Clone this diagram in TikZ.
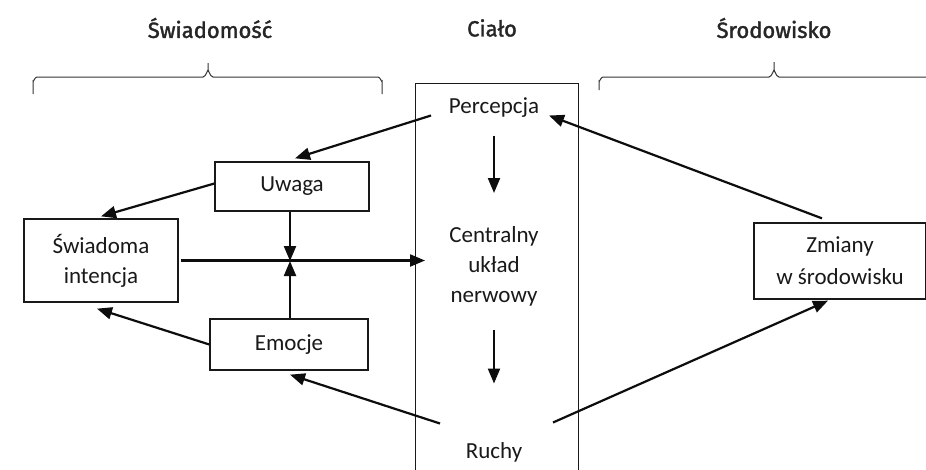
\documentclass[tikz,border=0pt]{standalone}
\usepackage{fontspec}
\setmainfont{Carlito}
\newfontfamily\titlefont[FakeBold=1.6]{Fira Sans}
\usetikzlibrary{arrows.meta,calc}
\begin{document}
\begin{tikzpicture}[x=1pt,y=-1pt,
  box/.style={draw=black!90, line width=1.3pt, font=\fontsize{23}{30}\selectfont, text=black!90, align=center, inner sep=0pt},
  lbl/.style={font=\fontsize{23}{30}\selectfont, text=black!90, align=center, inner sep=0pt, text height=16pt, text depth=5pt},
  ttl/.style={font=\titlefont\fontsize{22}{26}\selectfont, text=black!85, inner sep=0pt},
  arr/.style={line width=2.2pt, draw=black!95, -{Triangle[length=15pt,width=12pt]}},
  bracepath/.style={line width=1pt, draw=black!80}]
\clip (0,0) rectangle (926,469);
\fill[white] (0,0) rectangle (926,469);

% titles
\node[ttl] (t1) at (210,28) {Świadomość};
\node[ttl] (t2) at (492,28) {Ciało};
\node[ttl] (t3) at (774,28) {Środowisko};

% braces
\draw[bracepath] (33,94) -- (33,81) to[out=-90,in=180] (37,77) -- (203,77) to[out=0,in=90] (208,71) -- (208,63);
\draw[bracepath] (208,71) to[out=90,in=180] (213,77) -- (378,77) to[out=0,in=-90] (382,81) -- (382,94);
\draw[bracepath] (599,90) -- (599,81) to[out=-90,in=180] (603,77) -- (769,77) to[out=0,in=90] (774,71) -- (774,62);
\draw[bracepath] (774,71) to[out=90,in=180] (779,77) -- (940,77);

% body column
\node[draw=black!90, line width=1.3pt, minimum width=163pt, minimum height=420pt, anchor=north west, inner sep=0pt] (body) at (415,83) {};
\node[lbl] (perc) at (494,107.5) {Percepcja};
\node[lbl, text height=, text depth=] (cns) at (494,266) {Centralny\\układ\\nerwowy};
\node[lbl] (ruchy) at (494,452.5) {Ruchy};

% left boxes
\node[box, minimum width=154pt, minimum height=49pt] (uw) at (292,186.5) {Uwaga};
\node[box, minimum width=154pt, minimum height=83pt] (si) at (101,260.5) {Świadoma\\intencja};
\node[box, minimum width=158pt, minimum height=51pt] (em) at (289,344.5) {Emocje};

% right box
\node[box, minimum width=172pt, minimum height=76pt, font=\fontsize{23}{32}\selectfont] (zm) at (840,261) {Zmiany\\w środowisku};

\coordinate (j) at (290,261);
\coordinate (cnsin) at (425,261);

% connectors
\draw[arr] ($(perc)+(0,28)$) -- ($(cns)+(0,-73)$);
\draw[arr] ($(cns)+(0,64)$) -- ($(ruchy)+(0,-69)$);
\draw[arr] ($(perc)+(-63,8)$) -- ($(uw.north)+(3,-3)$);
\draw[arr] ($(uw.west)+(0,-3)$) -- ($(si.north)+(0,-2)$);
\draw[arr] (uw.south -| j) -- (j);
\draw[arr] (em.north -| j) -- (j);
\draw[arr] ($(si.east)+(2,0)$) -- (si.east -| cnsin);
\draw[arr] (em.west) -- ($(si.south)+(-4,6)$);
\draw[arr] ($(ruchy)+(-54,-29)$) -- ($(em.south)+(1,4)$);
\draw[arr] ($(ruchy)+(59,-30)$) -- ($(zm.south)+(-12,1)$);
\draw[arr] ($(zm.north)+(-18,-4)$) -- ($(perc)+(55,8)$);
\end{tikzpicture}
\end{document}
